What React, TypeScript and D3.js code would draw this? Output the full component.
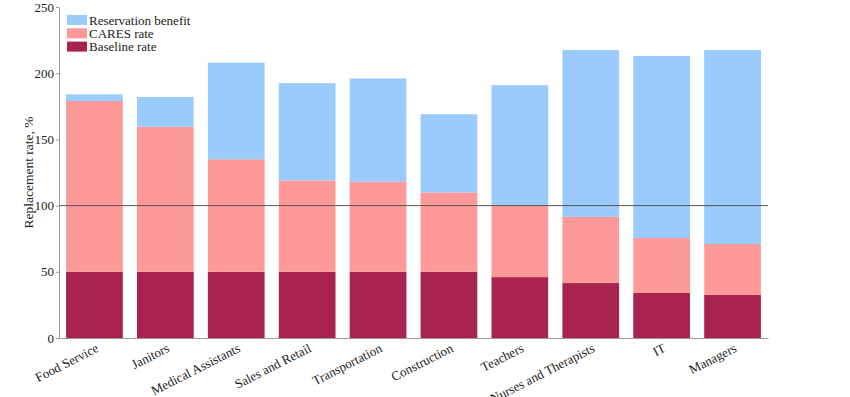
import React, { useEffect, useRef } from 'react';
import * as d3 from 'd3';

const occupations = [
  'Food Service', 'Janitors', 'Medical Assistants', 'Sales and Retail', 'Transportation',
  'Construction', 'Teachers', 'Nurses and Therapists', 'IT', 'Managers',
];
// levels (top of each layer), in %
const baselineRate = [50, 50, 50, 50, 50, 50, 46, 41.5, 34, 32.5];
const caresRate = [179, 159.5, 135, 119, 118, 110, 100.5, 91.5, 75.5, 71];
const reservationBenefit = [184, 182, 208, 192.5, 196, 169, 191, 217.5, 213, 217.5];
const yTicks = [0, 50, 100, 150, 200, 250];

const layers = [
  { name: 'Reservation benefit', color: '#99cbfd' },
  { name: 'CARES rate', color: '#fe9999' },
  { name: 'Baseline rate', color: '#a8244e' },
];

const FONT = '"Palatino Linotype", Palatino, "Book Antiqua", "Liberation Serif", serif';

function App() {
  const svgRef = useRef<SVGSVGElement>(null);

  useEffect(() => {
    const width = 850, height = 397;
    const margin = { top: 7, right: 82, bottom: 59, left: 59 };
    const svg = d3.select(svgRef.current);
    svg.selectAll('*').remove();

    const x = d3.scaleBand()
      .domain(occupations)
      .range([margin.left, width - margin.right])
      .paddingInner(0.2)
      .paddingOuter(0.1);

    const y = d3.scaleLinear()
      .domain([0, 250])
      .range([height - margin.bottom, margin.top]);

    // stacked segments: [from, to] per layer
    const segs = [
      { color: layers[2].color, from: occupations.map(() => 0), to: baselineRate },
      { color: layers[1].color, from: baselineRate, to: caresRate },
      { color: layers[0].color, from: caresRate, to: reservationBenefit },
    ];
    segs.forEach(s => {
      svg.append('g')
        .selectAll('rect')
        .data(occupations)
        .join('rect')
        .attr('x', d => x(d)!)
        .attr('width', x.bandwidth())
        .attr('y', (d, i) => y(s.to[i]))
        .attr('height', (d, i) => y(s.from[i]) - y(s.to[i]))
        .attr('fill', s.color);
    });

    // 100% reference line
    svg.append('line')
      .attr('x1', margin.left)
      .attr('x2', width - margin.right)
      .attr('y1', y(100))
      .attr('y2', y(100))
      .attr('stroke', '#555')
      .attr('stroke-width', 1);

    // axes
    const yAxis = svg.append('g')
      .attr('transform', `translate(${margin.left},0)`)
      .call(d3.axisLeft(y).tickValues(yTicks).tickSize(3).tickPadding(2).tickSizeOuter(0));
    yAxis.select('.domain').attr('stroke', '#999');
    yAxis.selectAll('.tick line').attr('stroke', '#999');
    yAxis.selectAll('text').attr('font-family', FONT).attr('font-size', 13).attr('fill', '#222');

    const xAxis = svg.append('g')
      .attr('transform', `translate(0,${height - margin.bottom})`)
      .call(d3.axisBottom(x).tickSize(0).tickPadding(0).tickSizeOuter(0));
    xAxis.select('.domain').attr('stroke', '#999');
    xAxis.selectAll('text')
      .attr('font-family', FONT)
      .attr('font-size', 13)
      .attr('fill', '#222')
      .attr('text-anchor', 'end')
      .attr('dy', null)
      .attr('y', 0)
      .attr('transform', 'translate(5,13) rotate(-27)');

    svg.append('text')
      .attr('transform', `translate(33,${(y(0) + y(250)) / 2}) rotate(-90)`)
      .attr('text-anchor', 'middle')
      .attr('font-family', FONT)
      .attr('font-size', 13.5)
      .attr('fill', '#222')
      .text('Replacement rate, %');

    // legend
    const legend = svg.append('g').attr('transform', `translate(67,15)`);
    layers.forEach((l, i) => {
      const g = legend.append('g').attr('transform', `translate(0,${i * 13.3})`);
      g.append('rect').attr('width', 20).attr('height', 10).attr('fill', l.color);
      g.append('text')
        .attr('x', 22)
        .attr('y', 9.5)
        .attr('font-family', FONT)
        .attr('font-size', 13)
        .attr('fill', '#222')
        .text(l.name);
    });
  }, []);

  return <svg ref={svgRef} width={850} height={397} style={{ display: 'block', position: 'absolute', left: 0, top: 0 }} />;
}

export default App;
